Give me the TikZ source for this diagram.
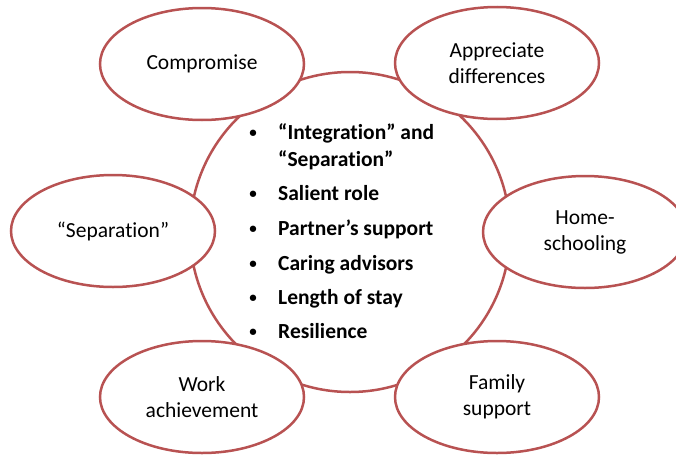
\documentclass[tikz,border=0pt]{standalone}
\usepackage{fontspec}
\setmainfont{Carlito}[Ligatures=NoCommon]
\usetikzlibrary{shapes.geometric}
\definecolor{ringred}{RGB}{184,82,82}
\tikzset{
  bubble/.style={ellipse,draw=ringred,line width=2.5pt,fill=white,minimum width=204pt,minimum height=112pt,inner sep=0pt,align=center,font=\fontsize{21.5}{26}\selectfont},
  hub/.style={circle,draw=ringred,line width=2.5pt,fill=white,minimum size=320pt,inner sep=0pt},
  item/.style={anchor=base west,inner sep=0pt,font=\bfseries\fontsize{21.5}{26}\selectfont},
  dot/.style={anchor=base,inner sep=0pt,font=\bfseries\fontsize{15}{18}\selectfont}
}
\begin{document}
\begin{tikzpicture}[x=1pt,y=-1pt]
\useasboundingbox (0,0) rectangle (676,455);
\node[hub] (hub) at (350,232) {};
\node[bubble] (comp) at (202,64) {Compromise};
\node[bubble] (appr) at (497,63) {Appreciate\\differences};
\node[bubble] (sep) at (113,231) {“Separation”};
\node[bubble] (home) at (585,232) {Home-\\schooling};
\node[bubble] (work) at (202,397) {Work\\achievement};
\node[bubble] (fam) at (497,397) {Family\\support};
\node[dot] (b1) at (253,137) {•};
\node[item] (t1) at (278,139) {“Integration” and};
\node[item] (t1b) at (278,166) {“Separation”};
\node[dot] (b2) at (253,198) {•};
\node[item] (t2) at (278,200) {Salient role};
\node[dot] (b3) at (253,233) {•};
\node[item] (t3) at (278,235) {Partner’s support};
\node[dot] (b4) at (253,268) {•};
\node[item] (t4) at (278,270) {Caring advisors};
\node[dot] (b5) at (253,302) {•};
\node[item] (t5) at (278,304) {Length of stay};
\node[dot] (b6) at (253,336) {•};
\node[item] (t6) at (278,338) {Resilience};
\end{tikzpicture}
\end{document}
